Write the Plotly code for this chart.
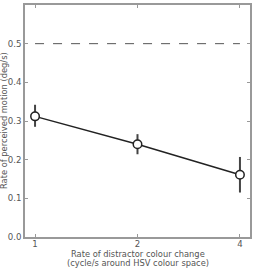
import plotly.graph_objects as go

x_vals = [1, 2, 4]
y_vals = [0.312, 0.240, 0.161]
err_plus = [0.030, 0.026, 0.046]
err_minus = [0.027, 0.026, 0.046]
ref_level = 0.5
y_ticks = [0.0, 0.1, 0.2, 0.3, 0.4, 0.5]
x_ticks = [1, 2, 4]

fig = go.Figure()
fig.add_trace(go.Scatter(
    x=[x_vals[0], x_vals[-1]], y=[ref_level, ref_level], mode="lines",
    line=dict(color="#555555", width=1, dash="dash"), hoverinfo="skip"))
fig.add_trace(go.Scatter(
    x=x_vals, y=y_vals, mode="lines+markers",
    line=dict(color="#222222", width=1.5),
    marker=dict(size=8.5, color="white", line=dict(color="#222222", width=1.5)),
    error_y=dict(type="data", array=err_plus, arrayminus=err_minus,
                 color="#444444", thickness=2, width=0)))

tick_font = dict(family="DejaVu Sans", size=8.6, color="#555555")
title_font = dict(family="DejaVu Sans", size=8.3, color="#555555")
fig.update_layout(
    width=255, height=268, margin=dict(l=25, r=5, t=5, b=31),
    plot_bgcolor="white", paper_bgcolor="white", showlegend=False,
    font=tick_font,
    xaxis=dict(type="log", range=[-0.0295, 0.6316], tickvals=x_ticks,
               ticktext=[str(v) for v in x_ticks], ticks="inside", ticklen=3,
               tickcolor="#999999", showgrid=False, zeroline=False, automargin=False,
               showline=True, linecolor="#999999", linewidth=1.5, mirror="ticks",
               ticklabelstandoff=-2, tickfont=tick_font),
    yaxis=dict(range=[0, 0.6], tickvals=y_ticks,
               ticktext=[f"{v:.1f}" for v in y_ticks], ticks="inside", ticklen=3,
               tickcolor="#999999", showgrid=False, zeroline=False, automargin=False,
               showline=True, linecolor="#999999", linewidth=1.5, mirror="ticks",
               tickfont=tick_font),
    annotations=[
        dict(text="Rate of distractor colour change", xref="paper", yref="paper",
             x=0.5, y=0, yshift=-17, xanchor="center", yanchor="middle",
             showarrow=False, font=title_font),
        dict(text="(cycle/s around HSV colour space)", xref="paper", yref="paper",
             x=0.5, y=0, yshift=-26, xanchor="center", yanchor="middle",
             showarrow=False, font=title_font),
        dict(text="Rate of perceived motion (deg/s)", xref="paper", yref="paper",
             x=0, y=0.5, xshift=-21, xanchor="center", yanchor="middle", textangle=-90,
             showarrow=False, font=title_font),
    ],
)
fig.write_html("out.html")
